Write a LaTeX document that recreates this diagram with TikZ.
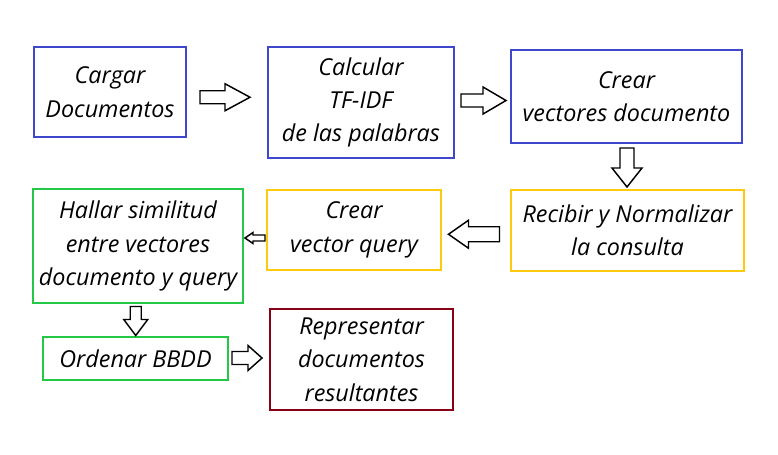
\documentclass[tikz,border=0pt]{standalone}
\usepackage{fontspec}
\setmainfont{Open Sans}
\usepackage{xcolor}
\usetikzlibrary{calc}

\definecolor{boxblue}{RGB}{63,72,204}
\definecolor{boxyellow}{RGB}{255,201,14}
\definecolor{boxgreen}{RGB}{34,200,70}
\definecolor{boxred}{RGB}{136,0,21}

\tikzset{
  procbox/.style={draw=#1, line width=1.5pt, align=center, inner sep=0pt,
    font=\fontsize{17.5}{25}\selectfont\itshape},
  % length, head width, shaft width, head length (all in px)
  pics/blockarrow/.style n args={4}{code={
    \draw [line width=1.1pt, fill=white, line join=miter]
      (-#1/2,-#3/2) -- (#1/2-#4,-#3/2) -- (#1/2-#4,-#2/2) -- (#1/2,0)
      -- (#1/2-#4,#2/2) -- (#1/2-#4,#3/2) -- (-#1/2,#3/2) -- cycle;
  }},
}

\begin{document}
\begin{tikzpicture}[x=0.75pt,y=0.75pt,yscale=-1,xscale=1]
\useasboundingbox (0,0) rectangle (778,454);

% first row
\node [procbox=boxblue, minimum width=114pt, minimum height=67.5pt] (cargar) at (110,92) {Cargar\\Documentos};
\node [procbox=boxblue, minimum width=139.5pt, minimum height=83.25pt] (calcular) at (361,102.5) {Calcular\\TF-IDF\\de las palabras};
\node [procbox=boxblue, minimum width=173.25pt, minimum height=69.75pt] (crearvec) at (626.5,96.5) {Crear\\vectores documento};

% second row
\node [procbox=boxyellow, minimum width=174.75pt, minimum height=60.75pt] (recibir) at (627.5,230.5) {Recibir y Normalizar\\la consulta};
\node [procbox=boxyellow, minimum width=130.5pt, minimum height=60pt] (crearquery) at (354,230) {Crear\\vector query};
\node [procbox=boxgreen, minimum width=157.5pt, minimum height=85.5pt] (hallar) at (138,246) {Hallar similitud\\entre vectores\\documento y query};

% third row
\node [procbox=boxgreen, minimum width=138.75pt, minimum height=32.25pt] (ordenar) at (135.5,358.5) {Ordenar BBDD};
\node [procbox=boxred, minimum width=137.25pt, minimum height=75.75pt] (representar) at (361.5,359.5) {Representar\\documentos\\resultantes};

% block arrows
\pic at ($(cargar.east)!0.5!(calcular.west)+(-2,0)$) {blockarrow={50}{27}{13}{25}};
\pic at ($(calcular.east)!0.5!(crearvec.west)+(1,1)$) {blockarrow={45}{27}{13}{23}};
\pic [rotate=-90] at ($(crearvec.south)!0.5!(recibir.north)+(0,1)$) {blockarrow={39}{30}{14}{19}};
\pic [rotate=180] at ($(recibir.west)!0.5!(crearquery.east)+(-2,4)$) {blockarrow={51}{28}{15}{20}};
\pic [rotate=180] at ($(crearquery.west)!0.5!(hallar.east)$) {blockarrow={20}{11}{6}{8}};
\pic [rotate=-90] at ($(hallar.south)!0.5!(ordenar.north)+(-1,1)$) {blockarrow={29}{24}{11}{16}};
\pic at ($(ordenar.east)!0.5!(representar.west)+(-2,-1)$) {blockarrow={30}{25}{13}{14}};

\end{tikzpicture}
\end{document}
